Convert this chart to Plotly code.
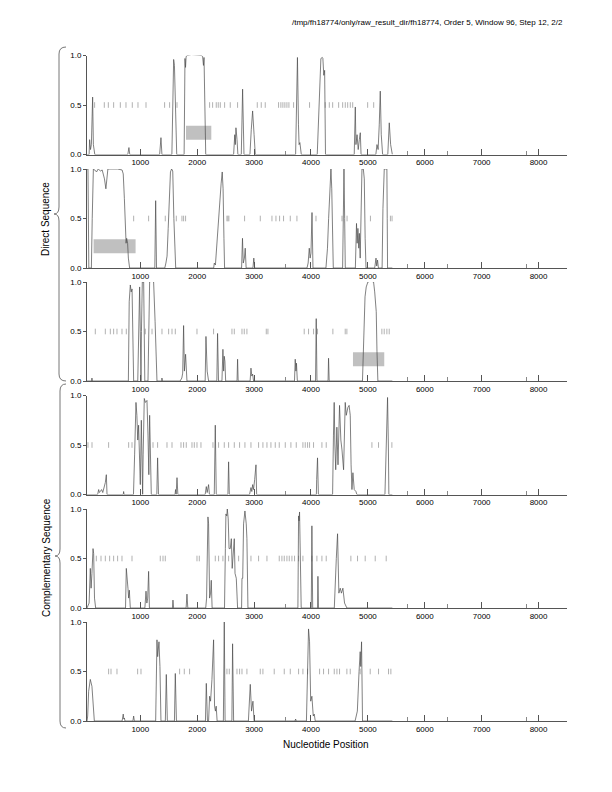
import plotly.graph_objects as go

# ---------------- data ----------------
title_text = "/tmp/fh18774/only/raw_result_dir/fh18774, Order 5, Window 96, Step 12, 2/2"
x_title = "Nucleotide Position"
group_labels = ["Direct Sequence", "Complementary Sequence"]
x_tick_vals = [1000, 2000, 3000, 4000, 5000, 6000, 7000, 8000]
x_minor_vals = [3560, 5690, 6395, 7795]
y_tick_vals = [0.0, 0.5, 1.0]
y_tick_text = ["0.0", "0.5", "1.0"]

# panel 1 (direct, frame 1)
p1_x = [63, 100, 109, 125, 140, 162, 175, 200, 780, 800, 815, 1340, 1363, 1380, 1555, 1575, 1586, 1600, 1620, 1640,
        1770, 1785, 1795, 1805, 1830, 1900, 2000, 2072, 2095, 2110, 2120, 2135, 2150,
        2640, 2660, 2670, 2681, 2700, 2715, 2775, 2798, 2822, 2927, 2950, 2974, 3000, 3021,
        3730, 3762, 3780, 3791, 3805, 3815, 3830, 4110, 4150, 4174, 4200, 4209, 4225, 4240, 4255,
        4760, 4779, 4790, 4810, 4830, 4850, 4867, 4880, 5140, 5160, 5180, 5200, 5218, 5235, 5259,
        5350, 5376, 5400, 5418, 5430]
p1_y = [0, 0, 0.15, 0.05, 0.1, 0.58, 0.1, 0, 0, 0.07, 0, 0, 0.17, 0, 0, 0.8, 0.96, 0.9, 0.3, 0,
        0, 0.97, 0.88, 0.99, 1.0, 1.01, 1.0, 1.0, 0.99, 0.9, 0.98, 0.3, 0,
        0, 0.2, 0.1, 0.27, 0.15, 0, 0, 0.66, 0, 0, 0.25, 0.44, 0.2, 0,
        0, 0.98, 0.3, 0.1, 0.12, 0.02, 0, 0, 0.6, 0.97, 0.98, 0.97, 0.8, 0.85, 0,
        0, 0.48, 0.1, 0.2, 0.05, 0.15, 0.22, 0, 0, 0.1, 0.05, 0.3, 0.64, 0.2, 0,
        0, 0.32, 0.1, 0, 0]
p1_stops = [197, 367, 438, 531, 649, 748, 859, 959, 1100, 1427, 1515, 1645, 2218, 2271, 2335, 2370, 2406,
            2482, 2581, 2710, 3056, 3126, 3196, 3430, 3471, 3506, 3541, 3577, 3612, 3694, 3975, 4250,
            4322, 4381, 4486, 4557, 4603, 4645, 4691, 4733, 4996, 5102]
p1_genes = [(1803, 2248)]

# panel 2 (direct, frame 2)
p2_x = [63, 80, 95, 140, 155, 175, 200, 230, 260, 300, 330, 370, 395, 410, 430, 500, 600, 680, 700, 720,
        740, 750, 760, 777, 790, 812, 1255, 1270, 1285, 1430, 1450, 1470, 1490, 1510, 1530, 1550, 1570,
        1590, 1622, 2290, 2300, 2320, 2350, 2380, 2400, 2420, 2440, 2455, 2470, 2481, 2780, 2796, 2810,
        2830, 2844, 2860, 2980, 2995, 3010, 3930, 3950, 3970, 3985, 4000, 4018, 4035, 4263, 4290, 4310,
        4330, 4351, 4365, 4380, 4392, 4556, 4570, 4580, 4592, 4603, 4780, 4790, 4800, 4812, 4825, 4840,
        4850, 4865, 4880, 4896, 4920, 4937, 4952, 4967, 5120, 5143, 5155, 5170, 5185, 5250, 5265, 5288,
        5310, 5334, 5340, 5346, 5430]
p2_y = [1.0, 1.0, 0, 0, 0.5, 1.0, 0.99, 0.97, 1.0, 0.98, 0.99, 0.9, 0.8, 0.9, 1.0, 1.0, 1.0, 0.99, 0.95, 0.7,
        0.35, 0.25, 0.3, 0.25, 0.1, 0, 0, 0.68, 0, 0, 0.05, 0.12, 0.4, 0.75, 0.97, 1.0, 0.98,
        0.5, 0, 0, 0.05, 0.03, 0.3, 0.5, 0.7, 0.85, 0.97, 0.8, 0.3, 0, 0, 0.3, 0.05,
        0.1, 0.2, 0, 0, 0.1, 0, 0, 0.05, 0.2, 0.1, 0.15, 0.56, 0, 0, 0.2, 0.5,
        0.85, 1.0, 0.8, 0.3, 0, 0, 0.6, 1.0, 0.5, 0, 0, 0.3, 0.45, 0.25, 0.4, 0.2,
        0.35, 0.1, 0.5, 1.0, 1.0, 0.9, 0.3, 0, 0, 0.1, 0.02, 0.08, 0, 0, 0.6, 1.0,
        1.0, 1.0, 0.5, 0, 0]
p2_stops = [883, 1146, 1439, 1633, 1732, 1761, 1796, 2523, 2540, 2557, 2833, 3109, 3314, 3384, 3448, 3518,
            3636, 3753, 4088, 4545, 4634, 5045, 5396, 5425]
p2_genes = [(179, 917)]

# panel 3 (direct, frame 3)
p3_x = [63, 140, 150, 160, 790, 805, 824, 840, 855, 870, 883, 955, 970, 988, 1000, 1012, 1020, 1035, 1059,
        1070, 1079, 1135, 1150, 1164, 1200, 1234, 1260, 1293, 1375, 1380, 1390, 1700, 1730, 1745, 1761,
        1775, 1796, 1820, 2140, 2154, 2175, 2200, 2345, 2358, 2375, 2435, 2452, 2465, 2475, 2487, 2500,
        2700, 2710, 2720, 2930, 2945, 2960, 2975, 2990, 3710, 3723, 3735, 3745, 3760, 4080, 4092, 4105,
        4300, 4309, 4320, 4905, 4930, 4950, 4971, 5000, 5050, 5100, 5120, 5147, 5160, 5176, 5430]
p3_y = [0, 0, 0.03, 0, 0, 0.8, 0.97, 0.9, 0.93, 0.3, 0, 0, 0.6, 0.95, 0.5, 0, 0.5, 1.0, 1.0,
        0.4, 0, 0, 0.8, 1.0, 1.01, 1.0, 0.6, 0, 0, 0.03, 0, 0, 0.03, 0.08, 0.56,
        0.1, 0.27, 0, 0, 0.45, 0.1, 0, 0, 0.48, 0, 0, 0.32, 0.1, 0.25, 0.2, 0,
        0, 0.22, 0, 0, 0.13, 0.05, 0.07, 0, 0, 0.22, 0.1, 0.18, 0, 0, 0.63, 0,
        0, 0.23, 0, 0, 0.5, 0.85, 0.95, 1.0, 1.01, 1.0, 0.9, 0.7, 0.3, 0, 0]
p3_stops = [209, 385, 473, 531, 590, 678, 754, 1088, 1206, 1381, 1498, 1557, 1615, 1996, 2288, 2611, 2652,
            2787, 2827, 2874, 3214, 3243, 3881, 3957, 4045, 4115, 4385, 4602, 4631, 5246, 5287, 5334, 5375]
p3_genes = [(4738, 5288)]

# panel 4 (complementary, frame 1)
p4_x = [63, 250, 268, 280, 295, 320, 340, 370, 385, 403, 415, 700, 707, 715, 880, 900, 924, 940, 955, 970,
        985, 1000, 1018, 1030, 1041, 1050, 1070, 1090, 1117, 1135, 1150, 1164, 1180, 1193, 1290, 1304, 1320,
        1610, 1620, 1630, 1645, 1660, 2140, 2160, 2175, 2200, 2215, 2300, 2318, 2335, 2540, 2552, 2565,
        2920, 2945, 2960, 2975, 2990, 3010, 3033, 3045, 4095, 4100, 4115, 4130, 4380, 4395, 4408, 4420,
        4435, 4455, 4475, 4502, 4525, 4545, 4573, 4602, 4620, 4649, 4670, 4680, 4690, 4705, 4720, 4737,
        4760, 4790, 4807, 5300, 5320, 5346, 5360, 5369, 5430]
p4_y = [0, 0, 0.05, 0.02, 0.03, 0.05, 0.02, 0.08, 0.12, 0.2, 0, 0, 0.03, 0, 0, 0.4, 0.93, 0.8, 0.55, 0.7,
        0.3, 0.1, 0.75, 0.1, 0, 0.4, 0.97, 0.93, 0.95, 0.6, 0.2, 0.8, 0.15, 0, 0, 0.37, 0,
        0, 0.05, 0, 0.17, 0, 0, 0.08, 0.02, 0.1, 0, 0, 0.7, 0, 0, 0.33, 0,
        0, 0.07, 0.03, 0.1, 0.05, 0.15, 0.3, 0, 0, 0.15, 0.37, 0, 0, 0.6, 0.93, 0.5,
        0.25, 0.68, 0.3, 0.9, 0.55, 0.45, 0.25, 0.93, 0.8, 0.88, 0.9, 0.85, 0.8, 0.3, 0.05, 0.22,
        0.05, 0.03, 0, 0, 0.4, 0.98, 0.5, 0, 0]
p4_stops = [80, 151, 443, 795, 854, 1223, 1304, 1469, 1557, 1715, 1761, 1808, 1908, 1949, 1996, 2066, 2277,
            2376, 2476, 2552, 2652, 2745, 2839, 2945, 3079, 3155, 3226, 3296, 3372, 3442, 3548, 3647, 3741,
            3858, 3899, 3940, 3975, 4045, 4192, 4268, 5071, 5187, 5422]

# panel 5 (complementary, frame 2)
p5_x = [63, 100, 121, 135, 150, 169, 180, 195, 215, 740, 754, 770, 783, 795, 807, 824, 1080, 1100, 1115, 1130,
        1146, 1160, 1565, 1574, 1585, 1805, 1820, 1835, 2150, 2165, 2175, 2189, 2200, 2218, 2235, 2247, 2262,
        2480, 2495, 2505, 2520, 2529, 2545, 2560, 2582, 2600, 2615, 2634, 2652, 2665, 2687, 2710, 2780, 2787,
        2800, 2815, 2839, 2862, 2874, 2892, 3770, 3782, 3790, 3799, 3812, 3828, 4005, 4016, 4030, 4115, 4122,
        4132, 4410, 4426, 4445, 4467, 4490, 4514, 4535, 4561, 4590, 4631, 5430]
p5_y = [0, 0.05, 0.4, 0.2, 0.35, 0.6, 0.55, 0.1, 0, 0, 0.4, 0.2, 0.2, 0.1, 0.18, 0, 0, 0.17, 0.05, 0.1,
        0.37, 0, 0, 0.08, 0, 0, 0.14, 0, 0, 0.1, 0.5, 0.92, 0.85, 0.1, 0.15, 0.28, 0,
        0, 0.6, 0.95, 0.93, 1.0, 0.9, 0.6, 0.6, 0.7, 0.4, 0.55, 0.7, 0.35, 0.3, 0, 0, 0.3,
        0.3, 0.85, 0.98, 0.85, 0.7, 0, 0, 0.93, 0.88, 0.97, 0.3, 0, 0, 0.83, 0, 0, 0.32,
        0, 0, 0.3, 0.5, 0.75, 0.15, 0.2, 0.15, 0.2, 0.05, 0, 0]
p5_stops = [227, 309, 385, 461, 531, 601, 678, 854, 1351, 1399, 1439, 1996, 2037, 2318, 2376, 2452, 2552,
            2728, 2945, 3079, 3226, 3442, 3489, 3530, 3577, 3618, 3665, 3711, 3782, 3858, 4016, 4104, 4192,
            4268, 4701, 4818, 4953, 5129, 5322]

# panel 6 (complementary, frame 3)
p6_x = [63, 75, 92, 121, 150, 165, 192, 680, 690, 700, 710, 720, 730, 870, 883, 895, 1270, 1283, 1293, 1305,
        1328, 1345, 1363, 1440, 1457, 1475, 1600, 1615, 1635, 2145, 2160, 2180, 2200, 2218, 2235, 2259, 2270,
        2288, 2305, 2320, 2334, 2350, 2460, 2476, 2490, 2610, 2622, 2640, 2900, 2918, 2933, 2955, 2980, 3000,
        3720, 3730, 3740, 3920, 3935, 3957, 3975, 3995, 4016, 4040, 4057, 4075, 4775, 4794, 4815, 4845, 4865,
        4875, 4889, 4906, 5430]
p6_y = [0, 0.05, 0.3, 0.42, 0.35, 0.2, 0, 0, 0.04, 0.07, 0.02, 0.03, 0, 0, 0.05, 0, 0, 0.75, 0.82, 0.65,
        0.8, 0.55, 0, 0, 0.47, 0, 0, 0.48, 0, 0, 0.38, 0, 0, 0.25, 0.2, 0.42, 0.6,
        0.82, 0.15, 0.1, 0.15, 0, 0, 1.0, 0, 0, 0.78, 0, 0, 0.3, 0.37, 0.1, 0.2, 0,
        0, 0.02, 0, 0, 0.35, 0.93, 0.8, 0.2, 0.25, 0.05, 0.07, 0, 0, 0.05, 0.1, 0.5, 0.7,
        0.55, 0.8, 0, 0]
p6_stops = [443, 485, 590, 953, 1012, 1691, 1773, 1866, 2523, 2564, 2699, 2745, 2787, 2874, 3108, 3155,
            3354, 3530, 3636, 3782, 3858, 3940, 4151, 4221, 4309, 4409, 4456, 4502, 4631, 4690, 4865, 5041,
            5187, 5363, 5404]

panels = [
    (p1_x, p1_y, p1_stops, p1_genes),
    (p2_x, p2_y, p2_stops, p2_genes),
    (p3_x, p3_y, p3_stops, p3_genes),
    (p4_x, p4_y, p4_stops, []),
    (p5_x, p5_y, p5_stops, []),
    (p6_x, p6_y, p6_stops, []),
]

# ---------------- layout (page pixels) ----------------
W, H = 612, 792
OFF = 8                      # default page margin of the html body
PL, PR, PT, PB = 87, 567, 55, 722
panel_tops = [55.5, 169, 282, 395.5, 509, 622]
panel_h = 99
FONT = "Liberation Sans, Arial, Helvetica, sans-serif"

def fx(px):
    return (px - PL) / (PR - PL)

def fy(py):
    return (PB - py) / (PB - PT)

fig = go.Figure()
shapes = []
for i, (xs, ys, stops, genes) in enumerate(panels):
    n = i + 1
    xa = "x" if n == 1 else f"x{n}"
    ya = "y" if n == 1 else f"y{n}"
    for g0, g1 in genes:
        shapes.append(dict(type="rect", xref=xa, yref=ya, x0=g0, x1=g1, y0=0.15, y1=0.29,
                           fillcolor="#c0c0c0", line=dict(width=0), layer="below"))
    fig.add_trace(go.Scatter(x=stops, y=[0.5] * len(stops), mode="markers", xaxis=xa, yaxis=ya,
                             marker=dict(symbol="line-ns", size=4, color="#a8a8a8",
                                         line=dict(color="#a8a8a8", width=0.9)),
                             hoverinfo="skip", showlegend=False))
    fig.add_trace(go.Scatter(x=xs, y=ys, mode="lines", xaxis=xa, yaxis=ya,
                             line=dict(color="#4a4a4a", width=0.7), cliponaxis=False,
                             hoverinfo="skip", showlegend=False))
    top = panel_tops[i]
    dom = [fy(top + panel_h), fy(top)]
    axis_common = dict(showline=True, linecolor="#555555", linewidth=1, showgrid=False, zeroline=False,
                       tickfont=dict(family=FONT, size=8, color="black"), tickcolor="#555555", tickwidth=1)
    fig.layout[f"xaxis{'' if n == 1 else n}"] = dict(
        axis_common, domain=[0, 1], anchor=ya, range=[63, 8500],
        tickmode="array", tickvals=x_tick_vals, ticks="inside", ticklen=6,
        minor=dict(tickmode="array", tickvals=x_minor_vals, ticks="inside", ticklen=4,
                   tickcolor="#888888", tickwidth=1))
    fig.layout[f"yaxis{'' if n == 1 else n}"] = dict(
        axis_common, domain=dom, anchor=xa, range=[0, 1],
        tickmode="array", tickvals=y_tick_vals, ticktext=y_tick_text, ticks="outside", ticklen=3)

# braces
def brace(x_line, x_tip, x_end, y_top, y_bot):
    ym = (y_top + y_bot) / 2
    r = 7
    pts = (f"M {fx(x_end)},{fy(y_top)} Q {fx(x_line)},{fy(y_top)} {fx(x_line)},{fy(y_top + r)} "
           f"L {fx(x_line)},{fy(ym - r)} Q {fx(x_line)},{fy(ym)} {fx(x_tip)},{fy(ym)} "
           f"Q {fx(x_line)},{fy(ym)} {fx(x_line)},{fy(ym + r)} "
           f"L {fx(x_line)},{fy(y_bot - r)} Q {fx(x_line)},{fy(y_bot)} {fx(x_end)},{fy(y_bot)}")
    return dict(type="path", xref="paper", yref="paper", path=pts, line=dict(color="#777777", width=1))

shapes.append(brace(59, 54, 66, 47, 381))
shapes.append(brace(60, 55, 66, 384, 728))

annotations = [
    dict(text=title_text, xref="paper", yref="paper", x=fx(565), y=fy(22), xanchor="right", yanchor="middle",
         showarrow=False, font=dict(family=FONT, size=8, color="black")),
    dict(text=x_title, xref="paper", yref="paper", x=fx(326), y=fy(744), xanchor="center", yanchor="middle",
         showarrow=False, font=dict(family=FONT, size=10, color="black")),
    dict(text=group_labels[0], xref="paper", yref="paper", x=fx(45), y=fy(219), textangle=-90,
         xanchor="center", yanchor="middle", showarrow=False, font=dict(family=FONT, size=10, color="black")),
    dict(text=group_labels[1], xref="paper", yref="paper", x=fx(46), y=fy(558), textangle=-90,
         xanchor="center", yanchor="middle", showarrow=False, font=dict(family=FONT, size=10, color="black")),
]

fig.update_layout(width=W - OFF, height=H - OFF,
                  margin=dict(l=PL - OFF, r=W - PR, t=PT - OFF, b=H - PB, pad=0),
                  paper_bgcolor="white", plot_bgcolor="white", shapes=shapes, annotations=annotations,
                  showlegend=False)
fig.write_html("out.html")
